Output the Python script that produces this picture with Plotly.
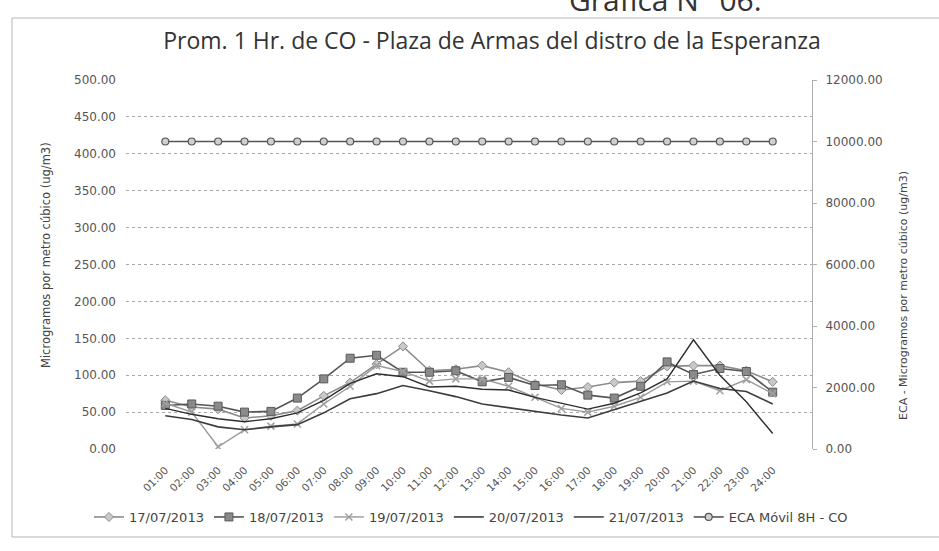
import plotly.graph_objects as go

hours = ["%02d:00" % h for h in range(1, 25)]

s_17 = [66, 57, 54, 42, 45, 52, 72, 90, 115, 139, 106, 108, 113, 104, 88, 80, 84, 90, 92, 112, 113, 113, 106, 91]
s_18 = [59, 61, 58, 50, 51, 69, 95, 123, 127, 104, 104, 106, 91, 97, 86, 87, 73, 69, 85, 118, 101, 109, 105, 77]
s_19 = [62, 50, 3, 26, 31, 34, 61, 85, 113, 105, 92, 95, 95, 85, 70, 55, 50, 58, 70, 91, 92, 79, 94, 75]
s_20 = [45, 40, 30, 26, 30, 33, 49, 68, 75, 86, 79, 71, 61, 56, 50, 46, 42, 53, 65, 76, 92, 82, 78, 61]
s_21 = [55, 47, 41, 37, 41, 49, 66, 89, 102, 98, 84, 85, 81, 80, 70, 62, 54, 62, 76, 95, 148, 100, 64, 21]
eca = [10000] * 24

left_ticks = [0, 50, 100, 150, 200, 250, 300, 350, 400, 450, 500]
right_ticks = [0, 2000, 4000, 6000, 8000, 10000, 12000]

W, H = 939, 551
L, R, T, B = 126, 812, 80, 449
PW, PH = R - L, B - T


def px(x):
    return (x - L) / PW


def py(y):
    return (B - y) / PH


fig = go.Figure()

fig.add_trace(go.Scatter(x=hours, y=s_17, name="17/07/2013", mode="lines+markers",
                         line=dict(color="#8c8c8c", width=1.6),
                         marker=dict(symbol="diamond", size=7, color="#c8c8c8",
                                     line=dict(color="#8c8c8c", width=1))))
fig.add_trace(go.Scatter(x=hours, y=s_18, name="18/07/2013", mode="lines+markers",
                         line=dict(color="#555555", width=1.6),
                         marker=dict(symbol="square", size=8, color="#8a8a8a",
                                     line=dict(color="#5a5a5a", width=1))))
fig.add_trace(go.Scatter(x=hours, y=s_19, name="19/07/2013", mode="lines+markers",
                         line=dict(color="#9a9a9a", width=1.4),
                         marker=dict(symbol="x-thin", size=7, color="#b0b0b0",
                                     line=dict(color="#a0a0a0", width=1.5))))
fig.add_trace(go.Scatter(x=hours, y=s_20, name="20/07/2013", mode="lines",
                         line=dict(color="#3c3c3c", width=1.6)))
fig.add_trace(go.Scatter(x=hours, y=s_21, name="21/07/2013", mode="lines",
                         line=dict(color="#2e2e2e", width=1.4)))
fig.add_trace(go.Scatter(x=hours, y=eca, name="ECA Móvil 8H - CO", mode="lines+markers",
                         yaxis="y2",
                         line=dict(color="#555555", width=1.6),
                         marker=dict(symbol="circle", size=7, color="#cfcfcf",
                                     line=dict(color="#555555", width=1.2))))

tickfont = dict(family="DejaVu Sans", size=12, color="#555555")

fig.update_layout(
    width=W, height=H,
    margin=dict(l=L, r=W - R, t=T, b=H - B, autoexpand=False),
    paper_bgcolor="white", plot_bgcolor="white",
    font=dict(family="DejaVu Sans", size=10, color="#444444"),
    title=dict(text="Prom. 1 Hr. de CO - Plaza de Armas del distro de la Esperanza",
               x=0.524, xanchor="center", y=1 - 41 / H, yanchor="middle",
               font=dict(family="Open Sans", size=23, color="#333333")),
    xaxis=dict(type="category", tickangle=-45, showgrid=False, showline=False,
               ticks="", automargin=False, ticklabelstandoff=12,
               tickfont=dict(family="DejaVu Sans", size=10.5, color="#555555")),
    yaxis=dict(range=[0, 500], tickvals=left_ticks, tickformat=".2f",
               showgrid=True, gridcolor="#a8a8a8", griddash="dot", gridwidth=1,
               zeroline=False, showline=False, ticks="", automargin=False,
               ticklabelstandoff=9, tickfont=tickfont),
    yaxis2=dict(range=[0, 12000], tickvals=right_ticks, tickformat=".2f",
                overlaying="y", side="right", showgrid=False, zeroline=False,
                showline=True, linecolor="#b0b0b0", linewidth=1, ticks="outside",
                ticklen=4, tickcolor="#b0b0b0", automargin=False,
                ticklabelstandoff=6, tickfont=tickfont),
    legend=dict(orientation="h", x=px(89), xanchor="left", y=py(517), yanchor="middle",
                itemwidth=30,
                font=dict(family="DejaVu Sans", size=13, color="#444444"),
                bgcolor="rgba(0,0,0,0)"),
    showlegend=True,
)

fig.add_annotation(text="Microgramos por metro cúbico (ug/m3)", textangle=-90,
                   xref="paper", yref="paper", x=px(46), y=py(255),
                   xanchor="center", yanchor="middle", showarrow=False,
                   font=dict(family="DejaVu Sans", size=11.5, color="#444444"))
fig.add_annotation(text="ECA - Microgramos por metro cúbico (ug/m3)", textangle=-90,
                   xref="paper", yref="paper", x=px(903), y=py(296),
                   xanchor="center", yanchor="middle", showarrow=False,
                   font=dict(family="DejaVu Sans", size=11, color="#444444"))

fig.add_annotation(text="Gráfica N° 06.", xref="paper", yref="paper",
                   x=px(665), y=py(22), xanchor="center", yanchor="bottom",
                   showarrow=False, font=dict(family="Open Sans", size=30, color="#333333"))

fig.add_shape(type="rect", xref="paper", yref="paper",
              x0=px(12), x1=px(950), y0=py(537), y1=py(18),
              line=dict(color="#b5b5b5", width=1), layer="below")

fig.write_html("out.html", config={"displayModeBar": False},
               post_script="document.body.style.margin='0';")
